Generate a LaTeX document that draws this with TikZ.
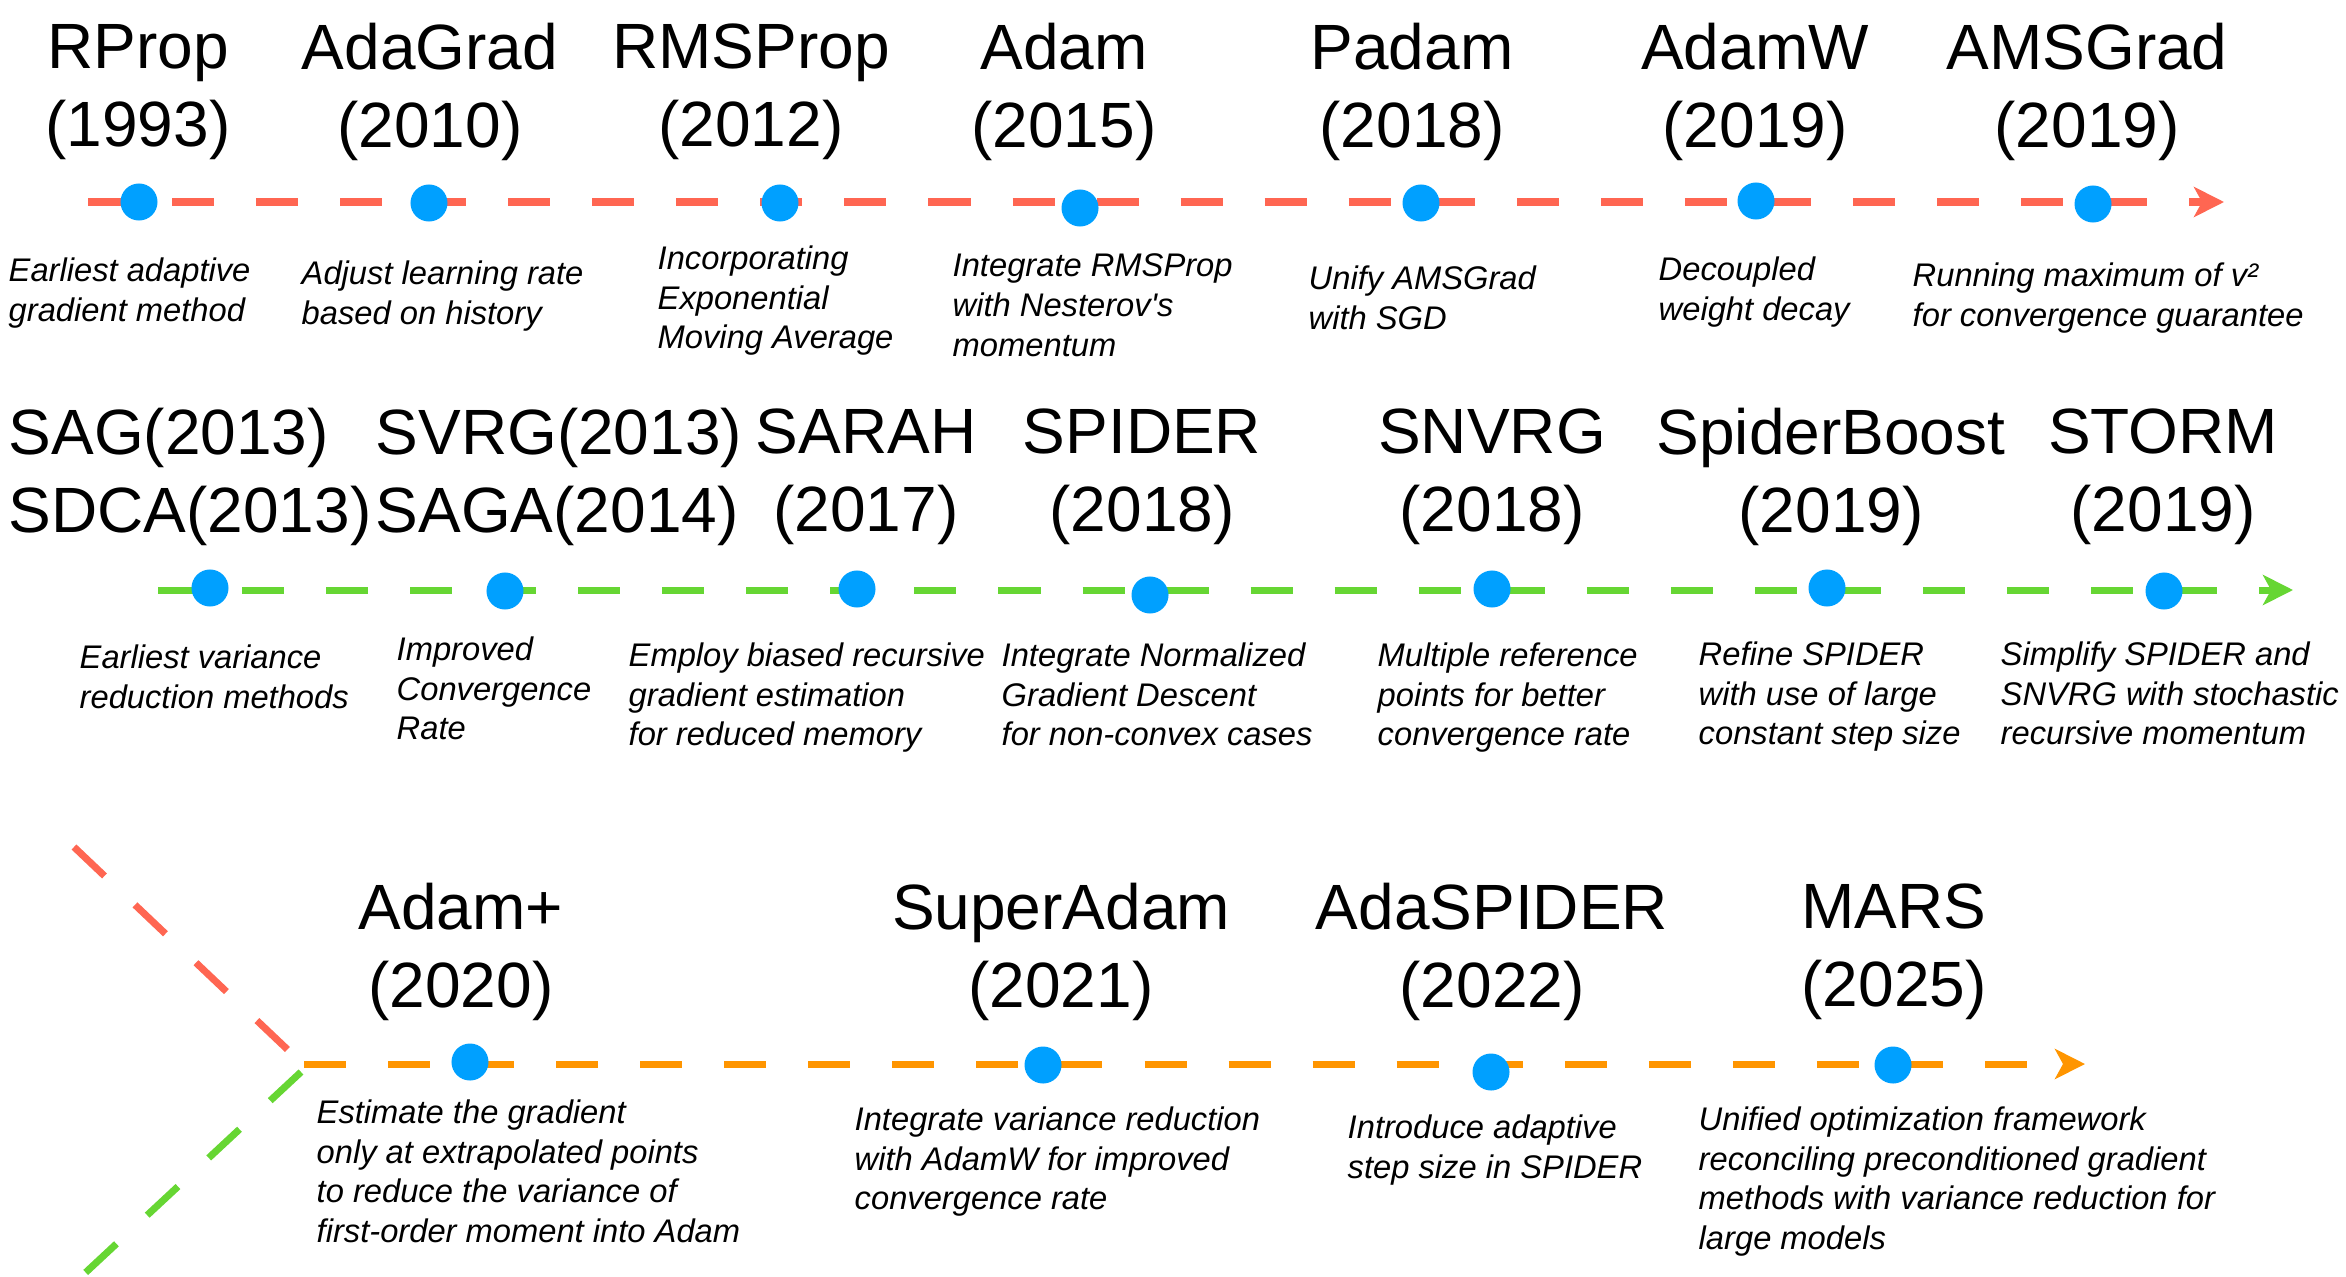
\documentclass[tikz,border=0pt]{standalone}
\usepackage{fontspec}
\setmainfont{Liberation Sans}[Ligatures=TeXOff]
\usepackage{xcolor}
\usepackage{tikz}
\usetikzlibrary{arrows.meta}

\definecolor{adaptred}{RGB}{255,102,82}
\definecolor{vrgreen}{RGB}{102,214,51}
\definecolor{mixorange}{RGB}{255,149,0}
\definecolor{dotblue}{RGB}{0,160,255}

\begin{document}
\begin{tikzpicture}[x=0.01cm, y=-0.01cm,
    milestone/.style={circle, fill=dotblue, inner sep=0pt, minimum size=0.37cm},
    method/.style={align=center, inner sep=0pt, font=\fontsize{18.2}{22.2}\selectfont},
    lmethod/.style={method, align=left, anchor=west},
    note/.style={anchor=north west, align=left, inner sep=0pt, font=\fontsize{9.3}{11.3}\selectfont\itshape},
    timeline/.style={line width=0.07cm, dash pattern=on 0.42cm off 0.42cm, -{Stealth[length=0.3cm, width=0.3cm, inset=0.08cm]}},
    branch/.style={line width=0.07cm, dash pattern=on 0.42cm off 0.42cm}
]
    \useasboundingbox (0,0) rectangle (2346,1276);

    % Timeline ends
    \coordinate (adapt-start) at (88,202);
    \coordinate (adapt-end) at (2224,202);
    \coordinate (vr-start) at (158,590);
    \coordinate (vr-end) at (2293,590);
    \coordinate (mix-start) at (304,1064);
    \coordinate (mix-end) at (2085,1064);
    \coordinate (red-in) at (74,847);
    \coordinate (red-out) at (288,1050);
    \coordinate (green-in) at (301,1072);
    \coordinate (green-out) at (84,1274);

    % Lines
    \draw [timeline, adaptred] (adapt-start) -- (adapt-end);
    \draw [timeline, vrgreen] (vr-start) -- (vr-end);
    \draw [timeline, mixorange] (mix-start) -- (mix-end);
    \draw [branch, adaptred] (red-in) -- (red-out);
    \draw [branch, vrgreen] (green-in) -- (green-out);

    % Adaptive methods
    \node[milestone] (rprop) at (139,202) {};
    \node[milestone] (adagrad) at (429,203) {};
    \node[milestone] (rmsprop) at (780,203) {};
    \node[milestone] (adam) at (1080,208) {};
    \node[milestone] (padam) at (1421,203) {};
    \node[milestone] (adamw) at (1756,201) {};
    \node[milestone] (amsgrad) at (2093,204) {};

    \node[method] (rprop-name) at (138,92) {RProp\\(1993)};
    \node[method] (adagrad-name) at (430,92) {AdaGrad\\(2010)};
    \node[method] (rmsprop-name) at (751,92) {RMSProp\\(2012)};
    \node[method] (adam-name) at (1064,92) {Adam\\(2015)};
    \node[method] (padam-name) at (1412,92) {Padam\\(2018)};
    \node[method] (adamw-name) at (1755,92) {AdamW\\(2019)};
    \node[method] (amsgrad-name) at (2087,92) {AMSGrad\\(2019)};

    \node[note] (rprop-note) at (8,257) {Earliest adaptive\\gradient method};
    \node[note] (adagrad-note) at (301,260) {Adjust learning rate\\based on history};
    \node[note] (rmsprop-note) at (657,245) {Incorporating\\Exponential\\Moving Average};
    \node[note] (adam-note) at (952,253) {Integrate RMSProp\\with Nesterov's\\momentum};
    \node[note] (padam-note) at (1308,265) {Unify AMSGrad\\with SGD};
    \node[note] (adamw-note) at (1658,256) {Decoupled\\weight decay};
    \node[note] (amsgrad-note) at (1912,262) {Running maximum of v²\\for convergence guarantee};

    % Variance reduction methods
    \node[milestone] (sag) at (210,588) {};
    \node[milestone] (svrg) at (505,591) {};
    \node[milestone] (sarah) at (857,589) {};
    \node[milestone] (spider) at (1150,595) {};
    \node[milestone] (snvrg) at (1492,589) {};
    \node[milestone] (spiderboost) at (1827,588) {};
    \node[milestone] (storm) at (2164,591) {};

    \node[lmethod] (sag-name) at (8,477) {SAG(2013)\\SDCA(2013)};
    \node[lmethod] (svrg-name) at (375,477) {SVRG(2013)\\SAGA(2014)};
    \node[method] (sarah-name) at (866,477) {SARAH\\(2017)};
    \node[method] (spider-name) at (1142,477) {SPIDER\\(2018)};
    \node[method] (snvrg-name) at (1492,477) {SNVRG\\(2018)};
    \node[method] (spiderboost-name) at (1831,477) {SpiderBoost\\(2019)};
    \node[method] (storm-name) at (2163,477) {STORM\\(2019)};

    \node[note] (sag-note) at (79,644) {Earliest variance\\reduction methods};
    \node[note] (svrg-note) at (396,636) {Improved\\Convergence\\Rate};
    \node[note] (sarah-note) at (628,642) {Employ biased recursive\\gradient estimation\\for reduced memory};
    \node[note] (spider-note) at (1001,642) {Integrate Normalized\\Gradient Descent\\for non-convex cases};
    \node[note] (snvrg-note) at (1377,642) {Multiple reference\\points for better\\convergence rate};
    \node[note] (spiderboost-note) at (1698,641) {Refine SPIDER\\with use of large\\constant step size};
    \node[note] (storm-note) at (2000,641) {Simplify SPIDER and\\SNVRG with stochastic\\recursive momentum};

    % Combined methods
    \node[milestone] (adamplus) at (470,1062) {};
    \node[milestone] (superadam) at (1043,1065) {};
    \node[milestone] (adaspider) at (1491,1072) {};
    \node[milestone] (mars) at (1893,1065) {};

    \node[method] (adamplus-name) at (461,952) {Adam+\\(2020)};
    \node[method] (superadam-name) at (1061,952) {SuperAdam\\(2021)};
    \node[method] (adaspider-name) at (1492,952) {AdaSPIDER\\(2022)};
    \node[method] (mars-name) at (1894,952) {MARS\\(2025)};

    \node[note] (adamplus-note) at (316,1099) {Estimate the gradient\\only at extrapolated points\\to reduce the variance of\\first-order moment into Adam};
    \node[note] (superadam-note) at (854,1106) {Integrate variance reduction\\with AdamW for improved\\convergence rate};
    \node[note] (adaspider-note) at (1347,1114) {Introduce adaptive\\step size in SPIDER};
    \node[note] (mars-note) at (1698,1106) {Unified optimization framework\\reconciling preconditioned gradient\\methods with variance reduction for\\large models};
\end{tikzpicture}
\end{document}
